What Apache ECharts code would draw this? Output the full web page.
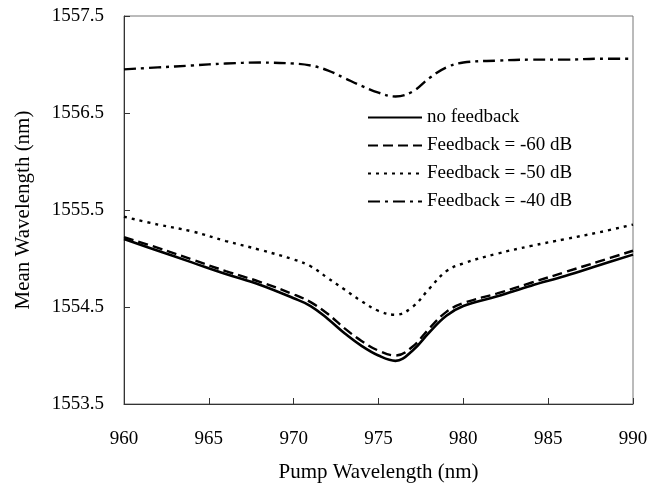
<!DOCTYPE html>
<html><head><meta charset="utf-8">
<script src="https://cdn.jsdelivr.net/npm/echarts@6/dist/echarts.min.js"></script>
<style>html,body{margin:0;padding:0;background:#fff}#c{width:660px;height:488px}</style>
</head><body><div id="c"></div>
<script>
const pumpWl = [960, 962, 964, 966, 968, 970, 971, 972, 973, 974, 975, 976, 977, 978, 979, 980, 982, 984, 986, 988, 990];
const noFeedback = [1555.20, 1555.08, 1554.96, 1554.84, 1554.73, 1554.59, 1554.51, 1554.38, 1554.23, 1554.10, 1554.00, 1553.945, 1554.05, 1554.24, 1554.41, 1554.51, 1554.61, 1554.72, 1554.82, 1554.93, 1555.04];
const fb60 = [1555.22, 1555.11, 1554.99, 1554.87, 1554.76, 1554.63, 1554.55, 1554.43, 1554.28, 1554.15, 1554.05, 1554.00, 1554.09, 1554.28, 1554.45, 1554.54, 1554.64, 1554.75, 1554.86, 1554.97, 1555.08];
const fb50 = [1555.43, 1555.35, 1555.28, 1555.18, 1555.09, 1554.99, 1554.92, 1554.80, 1554.68, 1554.56, 1554.46, 1554.42, 1554.50, 1554.69, 1554.87, 1554.95, 1555.05, 1555.13, 1555.20, 1555.27, 1555.35];
const fb40 = [1556.95, 1556.97, 1556.99, 1557.01, 1557.02, 1557.01, 1556.99, 1556.94, 1556.86, 1556.78, 1556.71, 1556.67, 1556.72, 1556.86, 1556.97, 1557.02, 1557.04, 1557.05, 1557.05, 1557.06, 1557.06];
const seriesNames = ['no feedback', 'Feedback = -60 dB', 'Feedback = -50 dB', 'Feedback = -40 dB'];
const xTicks = [960, 965, 970, 975, 980, 985, 990];

const font = 'Liberation Serif, Times New Roman, serif';
const pair = arr => pumpWl.map((x, i) => [x, arr[i]]);
const styles = [
  {type: 'solid', width: 2.6},
  {type: [10, 5], width: 2.4},
  {type: [3, 5], width: 2.4},
  {type: [12, 5, 3, 5], width: 2.4}
];
const datas = [noFeedback, fb60, fb50, fb40];

const chart = echarts.init(document.getElementById('c'), null, {renderer: 'canvas'});
chart.setOption({
  animation: false,
  backgroundColor: '#fff',
  grid: {left: 124, right: 27, top: 16, bottom: 83, show: true, borderColor: '#777', borderWidth: 1},
  legend: {
    orient: 'vertical', left: 362, top: 103,
    itemWidth: 54, itemHeight: 14, itemGap: 9,
    data: seriesNames,
    itemStyle: {opacity: 0},
    textStyle: {fontFamily: font, fontSize: 19, color: '#000'}
  },
  xAxis: {
    type: 'value', min: 960, max: 990, interval: 5,
    name: 'Pump Wavelength (nm)', nameLocation: 'middle', nameGap: 58,
    nameTextStyle: {fontFamily: font, fontSize: 21, color: '#000'},
    axisLine: {lineStyle: {color: '#333', width: 1}},
    axisTick: {inside: true, length: 6, lineStyle: {color: '#333'}, customValues: xTicks},
    axisLabel: {fontFamily: font, fontSize: 19, color: '#000', margin: 26, customValues: xTicks},
    splitLine: {show: false}
  },
  yAxis: {
    type: 'value', min: 1553.5, max: 1557.5, interval: 1,
    name: 'Mean Wavelength (nm)', nameLocation: 'middle', nameGap: 90,
    nameTextStyle: {fontFamily: font, fontSize: 21, color: '#000'},
    axisLine: {show: true, lineStyle: {color: '#333', width: 1}},
    axisTick: {show: true, inside: true, length: 6, lineStyle: {color: '#333'}},
    axisLabel: {fontFamily: font, fontSize: 19, color: '#000', margin: 20, formatter: v => v.toFixed(1)},
    splitLine: {show: false}
  },
  series: seriesNames.map((n, i) => ({
    name: n, type: 'line', smooth: 0.4, symbol: 'none',
    data: pair(datas[i]),
    lineStyle: {color: '#000', width: styles[i].width, type: styles[i].type},
    itemStyle: {color: '#000'}
  }))
});
</script></body></html>
